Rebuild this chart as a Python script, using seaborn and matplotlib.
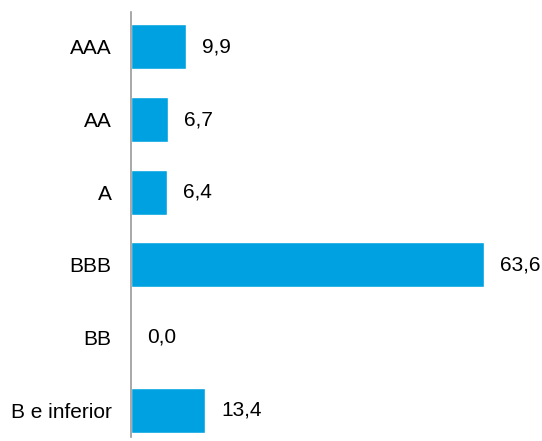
import matplotlib
matplotlib.use('Agg')
import matplotlib.pyplot as plt
import seaborn as sns
import pandas as pd

ratings = ['AAA', 'AA', 'A', 'BBB', 'BB', 'B e inferior']
values = [9.9, 6.7, 6.4, 63.6, 0.0, 13.4]

df = pd.DataFrame({'rating': ratings, 'value': values})

sns.set_style('white')
plt.rcParams['font.family'] = ['Liberation Sans', 'DejaVu Sans']

fig = plt.figure(figsize=(5.42, 4.41), dpi=100)
ax = fig.add_axes([131 / 542, 4 / 441, 1 - 131 / 542, 425 / 441])

sns.barplot(data=df, x='value', y='rating', color='#00A1E0', saturation=1,
            width=0.62, ax=ax)

for i, v in enumerate(values):
    ax.text(v + 2.9, i, f'{v:.1f}'.replace('.', ','), va='center', ha='left',
            fontsize=15, color='black')

ax.set_xlim(0, 74)
ax.set_ylim(5.37, -0.48)
ax.set_xlabel('')
ax.set_ylabel('')
ax.set_xticks([])
ax.tick_params(axis='y', length=0, pad=14, labelsize=15, labelcolor='black')
for side in ['top', 'right', 'bottom']:
    ax.spines[side].set_visible(False)
ax.spines['left'].set_color('#999999')
ax.spines['left'].set_linewidth(1.2)

fig.savefig('out.png', dpi=100)
